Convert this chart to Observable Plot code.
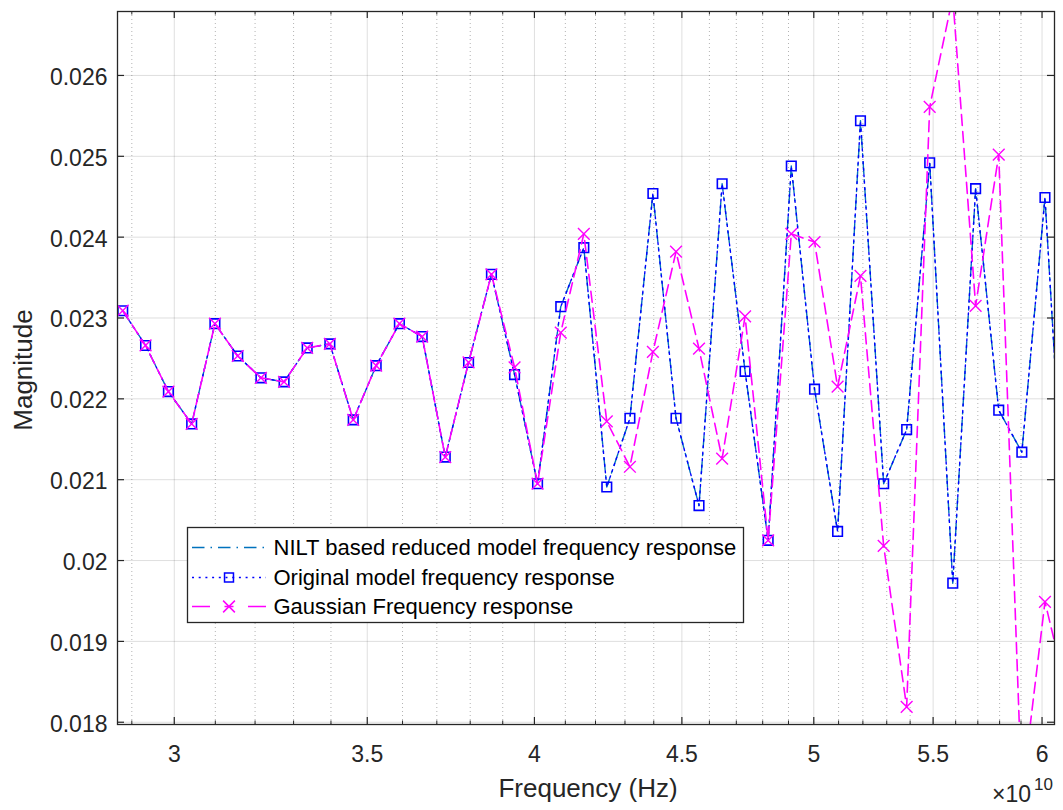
<!DOCTYPE html>
<html><head><meta charset="utf-8">
<script src="https://cdn.jsdelivr.net/npm/d3@7"></script>
<script src="https://cdn.jsdelivr.net/npm/@observablehq/plot@0.6"></script>
<style>body{margin:0;background:#fff;} #chart{width:1063px;height:810px;}</style>
</head><body><div id="chart"></div>
<script>
// ---- data ----
const frequencyHz = [2.879e10, 2.932e10, 2.986e10, 3.042e10, 3.099e10, 3.156e10, 3.215e10, 3.275e10, 3.336e10, 3.397e10,
  3.461e10, 3.525e10, 3.591e10, 3.657e10, 3.725e10, 3.795e10, 3.865e10, 3.937e10, 4.010e10, 4.085e10,
  4.161e10, 4.238e10, 4.317e10, 4.397e10, 4.479e10, 4.562e10, 4.647e10, 4.733e10, 4.821e10, 4.911e10,
  5.003e10, 5.096e10, 5.190e10, 5.287e10, 5.385e10, 5.485e10, 5.587e10, 5.690e10, 5.796e10, 5.904e10,
  6.014e10, 6.126e10];
const niltResponse = [0.02309, 0.02266, 0.02209, 0.02169, 0.02293, 0.02253, 0.02226, 0.02221, 0.02263, 0.02268,
  0.02174, 0.02241, 0.02293, 0.02277, 0.02128, 0.02245, 0.02354, 0.02230, 0.02095, 0.02314,
  0.02387, 0.02091, 0.02176, 0.02454, 0.02176, 0.02068, 0.02466, 0.02234, 0.02025, 0.02488,
  0.02212, 0.02036, 0.02544, 0.02095, 0.02162, 0.02492, 0.01972, 0.02460, 0.02186, 0.02134,
  0.02449, 0.01970];
const originalResponse = [0.02309, 0.02266, 0.02209, 0.02169, 0.02293, 0.02253, 0.02226, 0.02221, 0.02263, 0.02268,
  0.02174, 0.02241, 0.02293, 0.02277, 0.02128, 0.02245, 0.02354, 0.02230, 0.02095, 0.02314,
  0.02387, 0.02091, 0.02176, 0.02454, 0.02176, 0.02068, 0.02466, 0.02234, 0.02025, 0.02488,
  0.02212, 0.02036, 0.02544, 0.02095, 0.02162, 0.02492, 0.01972, 0.02460, 0.02186, 0.02134,
  0.02449, 0.01970];
const gaussianResponse = [0.02309, 0.02266, 0.02209, 0.02169, 0.02293, 0.02253, 0.02226, 0.02221, 0.02263, 0.02268,
  0.02174, 0.02241, 0.02293, 0.02277, 0.02128, 0.02245, 0.02354, 0.02239, 0.02095, 0.02282,
  0.02404, 0.02172, 0.02116, 0.02258, 0.02382, 0.02262, 0.02126, 0.02302, 0.02025, 0.02404,
  0.02394, 0.02215, 0.02352, 0.02018, 0.01819, 0.02561, 0.02697, 0.02315, 0.02502, 0.01710,
  0.01949, 0.01830];
const seriesNames = ["NILT based reduced model frequency response", "Original model frequency response", "Gaussian Frequency response"];
const xMajorTicks = [3e10, 3.5e10, 4e10, 4.5e10, 5e10, 5.5e10, 6e10];
const xMinorTicks = [2.9e10, 3.1e10, 3.2e10, 3.3e10, 3.4e10, 3.6e10, 3.7e10, 3.8e10, 3.9e10,
  4.1e10, 4.2e10, 4.3e10, 4.4e10, 4.6e10, 4.7e10, 4.8e10, 4.9e10,
  5.1e10, 5.2e10, 5.3e10, 5.4e10, 5.6e10, 5.7e10, 5.8e10, 5.9e10];
const yTicks = [0.018, 0.019, 0.020, 0.021, 0.022, 0.023, 0.024, 0.025, 0.026];
const xLabel = "Frequency (Hz)";
const yLabel = "Magnitude";

// ---- layout ----
const W = 1063, H = 810, mL = 117, mR = 9, mT = 11, mB = 86;
const innerW = W - mL - mR, innerH = H - mT - mB;
const axisColor = "#262626";
const colors = ["#0072BD", "#0000FF", "#FF00FF"];
const FONT = "'Liberation Sans', Arial, Helvetica, sans-serif";

const rows = frequencyHz.map((f, i) => ({f, nilt: niltResponse[i], orig: originalResponse[i], gauss: gaussianResponse[i]}));

const chart = Plot.plot({
  width: W, height: H,
  marginLeft: mL, marginRight: mR, marginTop: mT, marginBottom: mB,
  style: {fontFamily: FONT, fontSize: "23px", color: axisColor, background: "#fff", overflow: "visible"},
  x: {type: "log", domain: [2.867e10, 6.06e10]},
  y: {domain: [0.017972, 0.026791]},
  marks: [
    Plot.gridX(xMinorTicks, {stroke: "#000", strokeOpacity: 0.3, strokeDasharray: "1,3"}),
    Plot.gridX(xMajorTicks, {stroke: "#000", strokeOpacity: 0.13}),
    Plot.gridY(yTicks, {stroke: "#000", strokeOpacity: 0.13}),
    Plot.line(rows, {x: "f", y: "nilt", stroke: colors[0], strokeWidth: 1.4, strokeDasharray: "12,6,2,6", clip: true}),
    Plot.line(rows, {x: "f", y: "orig", stroke: colors[1], strokeWidth: 1.4, strokeDasharray: "2,4.5", clip: true}),
    Plot.dot(rows, {x: "f", y: "orig", symbol: "square", r: 5.4, stroke: colors[1], strokeWidth: 1.6, fill: "none", clip: true}),
    Plot.line(rows, {x: "f", y: "gauss", stroke: colors[2], strokeWidth: 1.6, strokeDasharray: "11,6", clip: true}),
    Plot.dot(rows, {x: "f", y: "gauss", symbol: "times", r: 5.4, stroke: colors[2], strokeWidth: 1.4, clip: true}),
    Plot.tickX(xMajorTicks, {insetTop: innerH - 7, stroke: axisColor, strokeWidth: 1.2}),
    Plot.tickX(xMajorTicks, {insetBottom: innerH - 7, stroke: axisColor, strokeWidth: 1.2}),
    Plot.tickX(xMinorTicks, {insetTop: innerH - 3.5, stroke: axisColor}),
    Plot.tickX(xMinorTicks, {insetBottom: innerH - 3.5, stroke: axisColor}),
    Plot.tickY(yTicks, {insetRight: innerW - 7, stroke: axisColor, strokeWidth: 1.2}),
    Plot.tickY(yTicks, {insetLeft: innerW - 7, stroke: axisColor, strokeWidth: 1.2}),
    Plot.frame({stroke: axisColor, strokeWidth: 1.3}),
    Plot.axisX({ticks: xMajorTicks, tickSize: 0, tickPadding: 21, tickFormat: d => String(+(d / 1e10).toFixed(1)), label: null, fill: axisColor}),
    Plot.axisY({ticks: yTicks, tickSize: 0, tickPadding: 10, dy: 2, tickFormat: d => String(+d.toFixed(3)), label: null, fill: axisColor})
  ]
});
document.getElementById("chart").appendChild(chart);

// ---- axis titles and exponent label ----
const svg = d3.select(chart);
svg.append("text").attr("x", 588).attr("y", 797).attr("text-anchor", "middle")
  .attr("font-family", FONT).attr("font-size", 26).attr("fill", axisColor).text(xLabel);
svg.append("text").attr("transform", "translate(32,370) rotate(-90)").attr("text-anchor", "middle")
  .attr("font-family", FONT).attr("font-size", 26).attr("fill", axisColor).text(yLabel);
svg.append("text").attr("x", 1031).attr("y", 802).attr("text-anchor", "end")
  .attr("font-family", FONT).attr("font-size", 23).attr("fill", axisColor).text("\u00d710");
svg.append("text").attr("x", 1034).attr("y", 790).attr("text-anchor", "start")
  .attr("font-family", FONT).attr("font-size", 17).attr("fill", axisColor).text("10");

// ---- legend inside the axes ----
const lg = svg.append("g");
lg.append("rect").attr("x", 187.5).attr("y", 527.5).attr("width", 556).attr("height", 95)
  .attr("fill", "#fff").attr("stroke", axisColor).attr("stroke-width", 1.3);
const legendDash = ["12.5,6,1.5,6", "2,4.7", "18,14.5,9,14.5,18"];
const legendMarker = [null, d3.symbolSquare, d3.symbolTimes];
const legendRowY = [547.5, 577.5, 606.5];
seriesNames.forEach((name, i) => {
  const y = legendRowY[i];
  lg.append("line").attr("x1", 192).attr("x2", 266).attr("y1", y).attr("y2", y)
    .attr("stroke", colors[i]).attr("stroke-width", 1.5).attr("stroke-dasharray", legendDash[i]);
  if (legendMarker[i]) {
    lg.append("path").attr("transform", `translate(229,${y})`)
      .attr("d", d3.symbol(legendMarker[i], i === 1 ? 80 : 92)())
      .attr("fill", "none").attr("stroke", colors[i]).attr("stroke-width", 1.5);
  }
  lg.append("text").attr("x", 273.5).attr("y", y + 7.8).attr("text-anchor", "start")
    .attr("font-family", FONT).attr("font-size", 22).attr("fill", "#000").text(name);
});
</script>
</body></html>
